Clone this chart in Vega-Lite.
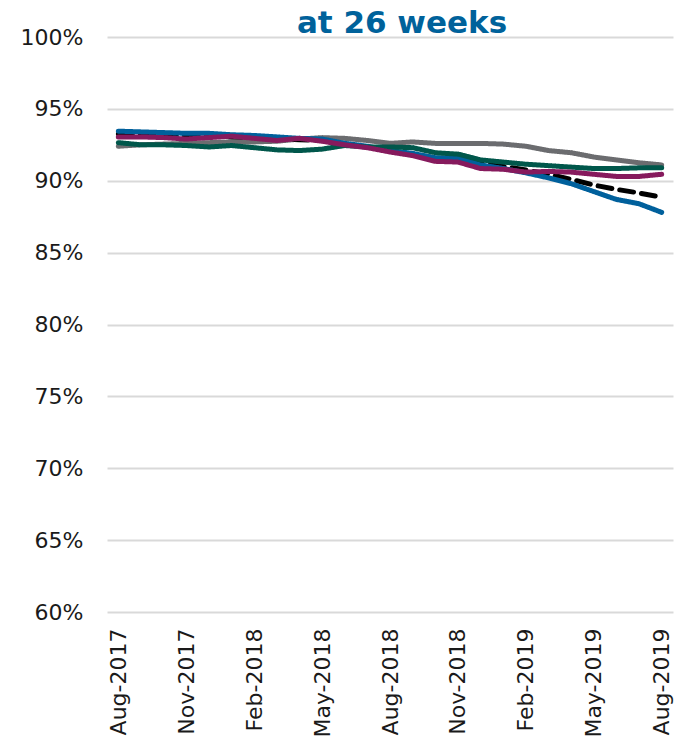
{
  "$schema": "https://vega.github.io/schema/vega-lite/v6.json",
  "width": 566,
  "height": 575,
  "autosize": "none",
  "padding": {"left": 107, "top": 37, "right": 13, "bottom": 135},
  "background": "white",
  "title": {
    "text": "at 26 weeks",
    "color": "#00629B",
    "font": "DejaVu Sans",
    "fontSize": 31,
    "fontWeight": "bold",
    "anchor": "middle",
    "baseline": "alphabetic",
    "offset": -38,
    "dx": 12
  },
  "data": {
    "values": [
      {"month":"Aug-2017","series":"Grey","value":92.4},
      {"month":"Sep-2017","series":"Grey","value":92.5},
      {"month":"Oct-2017","series":"Grey","value":92.55},
      {"month":"Nov-2017","series":"Grey","value":92.6},
      {"month":"Dec-2017","series":"Grey","value":92.65},
      {"month":"Jan-2018","series":"Grey","value":92.7},
      {"month":"Feb-2018","series":"Grey","value":92.7},
      {"month":"Mar-2018","series":"Grey","value":92.75},
      {"month":"Apr-2018","series":"Grey","value":92.9},
      {"month":"May-2018","series":"Grey","value":93.0},
      {"month":"Jun-2018","series":"Grey","value":92.95},
      {"month":"Jul-2018","series":"Grey","value":92.8},
      {"month":"Aug-2018","series":"Grey","value":92.6},
      {"month":"Sep-2018","series":"Grey","value":92.7},
      {"month":"Oct-2018","series":"Grey","value":92.6},
      {"month":"Nov-2018","series":"Grey","value":92.6},
      {"month":"Dec-2018","series":"Grey","value":92.6},
      {"month":"Jan-2019","series":"Grey","value":92.55},
      {"month":"Feb-2019","series":"Grey","value":92.4},
      {"month":"Mar-2019","series":"Grey","value":92.1},
      {"month":"Apr-2019","series":"Grey","value":91.95},
      {"month":"May-2019","series":"Grey","value":91.65},
      {"month":"Jun-2019","series":"Grey","value":91.45},
      {"month":"Jul-2019","series":"Grey","value":91.25},
      {"month":"Aug-2019","series":"Grey","value":91.1},

      {"month":"Aug-2017","series":"All","value":93.25},
      {"month":"Sep-2017","series":"All","value":93.2},
      {"month":"Oct-2017","series":"All","value":93.15},
      {"month":"Nov-2017","series":"All","value":93.1},
      {"month":"Dec-2017","series":"All","value":93.1},
      {"month":"Jan-2018","series":"All","value":93.05},
      {"month":"Feb-2018","series":"All","value":93.0},
      {"month":"Mar-2018","series":"All","value":92.9},
      {"month":"Apr-2018","series":"All","value":92.85},
      {"month":"May-2018","series":"All","value":92.8},
      {"month":"Jun-2018","series":"All","value":92.55},
      {"month":"Jul-2018","series":"All","value":92.35},
      {"month":"Aug-2018","series":"All","value":92.05},
      {"month":"Sep-2018","series":"All","value":91.85},
      {"month":"Oct-2018","series":"All","value":91.55},
      {"month":"Nov-2018","series":"All","value":91.5},
      {"month":"Dec-2018","series":"All","value":91.2},
      {"month":"Jan-2019","series":"All","value":91.0},
      {"month":"Feb-2019","series":"All","value":90.75},
      {"month":"Mar-2019","series":"All","value":90.45},
      {"month":"Apr-2019","series":"All","value":90.1},
      {"month":"May-2019","series":"All","value":89.7},
      {"month":"Jun-2019","series":"All","value":89.4},
      {"month":"Jul-2019","series":"All","value":89.15},
      {"month":"Aug-2019","series":"All","value":88.85},

      {"month":"Aug-2017","series":"Blue","value":93.45},
      {"month":"Sep-2017","series":"Blue","value":93.4},
      {"month":"Oct-2017","series":"Blue","value":93.35},
      {"month":"Nov-2017","series":"Blue","value":93.3},
      {"month":"Dec-2017","series":"Blue","value":93.3},
      {"month":"Jan-2018","series":"Blue","value":93.2},
      {"month":"Feb-2018","series":"Blue","value":93.15},
      {"month":"Mar-2018","series":"Blue","value":93.05},
      {"month":"Apr-2018","series":"Blue","value":92.95},
      {"month":"May-2018","series":"Blue","value":92.9},
      {"month":"Jun-2018","series":"Blue","value":92.6},
      {"month":"Jul-2018","series":"Blue","value":92.4},
      {"month":"Aug-2018","series":"Blue","value":92.1},
      {"month":"Sep-2018","series":"Blue","value":91.9},
      {"month":"Oct-2018","series":"Blue","value":91.6},
      {"month":"Nov-2018","series":"Blue","value":91.6},
      {"month":"Dec-2018","series":"Blue","value":91.1},
      {"month":"Jan-2019","series":"Blue","value":90.85},
      {"month":"Feb-2019","series":"Blue","value":90.55},
      {"month":"Mar-2019","series":"Blue","value":90.2},
      {"month":"Apr-2019","series":"Blue","value":89.8},
      {"month":"May-2019","series":"Blue","value":89.25},
      {"month":"Jun-2019","series":"Blue","value":88.7},
      {"month":"Jul-2019","series":"Blue","value":88.4},
      {"month":"Aug-2019","series":"Blue","value":87.8},

      {"month":"Aug-2017","series":"Green","value":92.65},
      {"month":"Sep-2017","series":"Green","value":92.5},
      {"month":"Oct-2017","series":"Green","value":92.5},
      {"month":"Nov-2017","series":"Green","value":92.45},
      {"month":"Dec-2017","series":"Green","value":92.35},
      {"month":"Jan-2018","series":"Green","value":92.45},
      {"month":"Feb-2018","series":"Green","value":92.3},
      {"month":"Mar-2018","series":"Green","value":92.15},
      {"month":"Apr-2018","series":"Green","value":92.1},
      {"month":"May-2018","series":"Green","value":92.2},
      {"month":"Jun-2018","series":"Green","value":92.45},
      {"month":"Jul-2018","series":"Green","value":92.35},
      {"month":"Aug-2018","series":"Green","value":92.35},
      {"month":"Sep-2018","series":"Green","value":92.3},
      {"month":"Oct-2018","series":"Green","value":91.95},
      {"month":"Nov-2018","series":"Green","value":91.85},
      {"month":"Dec-2018","series":"Green","value":91.45},
      {"month":"Jan-2019","series":"Green","value":91.3},
      {"month":"Feb-2019","series":"Green","value":91.15},
      {"month":"Mar-2019","series":"Green","value":91.05},
      {"month":"Apr-2019","series":"Green","value":90.95},
      {"month":"May-2019","series":"Green","value":90.85},
      {"month":"Jun-2019","series":"Green","value":90.85},
      {"month":"Jul-2019","series":"Green","value":90.9},
      {"month":"Aug-2019","series":"Green","value":90.9},

      {"month":"Aug-2017","series":"Magenta","value":93.05},
      {"month":"Sep-2017","series":"Magenta","value":93.05},
      {"month":"Oct-2017","series":"Magenta","value":93.0},
      {"month":"Nov-2017","series":"Magenta","value":92.9},
      {"month":"Dec-2017","series":"Magenta","value":93.0},
      {"month":"Jan-2018","series":"Magenta","value":93.1},
      {"month":"Feb-2018","series":"Magenta","value":92.95},
      {"month":"Mar-2018","series":"Magenta","value":92.8},
      {"month":"Apr-2018","series":"Magenta","value":92.95},
      {"month":"May-2018","series":"Magenta","value":92.75},
      {"month":"Jun-2018","series":"Magenta","value":92.5},
      {"month":"Jul-2018","series":"Magenta","value":92.3},
      {"month":"Aug-2018","series":"Magenta","value":92.0},
      {"month":"Sep-2018","series":"Magenta","value":91.75},
      {"month":"Oct-2018","series":"Magenta","value":91.35},
      {"month":"Nov-2018","series":"Magenta","value":91.3},
      {"month":"Dec-2018","series":"Magenta","value":90.85},
      {"month":"Jan-2019","series":"Magenta","value":90.8},
      {"month":"Feb-2019","series":"Magenta","value":90.6},
      {"month":"Mar-2019","series":"Magenta","value":90.65},
      {"month":"Apr-2019","series":"Magenta","value":90.6},
      {"month":"May-2019","series":"Magenta","value":90.45},
      {"month":"Jun-2019","series":"Magenta","value":90.3},
      {"month":"Jul-2019","series":"Magenta","value":90.3},
      {"month":"Aug-2019","series":"Magenta","value":90.45}
    ]
  },
  "mark": {"type": "line", "strokeWidth": 5, "strokeCap": "round", "strokeJoin": "round"},
  "encoding": {
    "x": {
      "field": "month",
      "type": "ordinal",
      "sort": null,
      "scale": {"type": "point", "padding": 0.5},
      "axis": {
        "title": null,
        "values": ["Aug-2017","Nov-2017","Feb-2018","May-2018","Aug-2018","Nov-2018","Feb-2019","May-2019","Aug-2019"],
        "labelAngle": -90,
        "labelFont": "DejaVu Sans",
        "labelFontSize": 22,
        "labelColor": "#1a1a1a",
        "labelPadding": 16,
        "ticks": false,
        "domain": false,
        "grid": false
      }
    },
    "y": {
      "field": "value",
      "type": "quantitative",
      "scale": {"domain": [60, 100], "nice": false, "zero": false},
      "axis": {
        "title": null,
        "values": [60, 65, 70, 75, 80, 85, 90, 95, 100],
        "labelExpr": "datum.value + '%'",
        "labelFont": "DejaVu Sans",
        "labelFontSize": 22,
        "labelColor": "#1a1a1a",
        "labelPadding": 24,
        "ticks": false,
        "domain": false,
        "grid": true,
        "gridColor": "#D9D9D9",
        "gridWidth": 2
      }
    },
    "color": {
      "field": "series",
      "type": "nominal",
      "scale": {
        "domain": ["Grey", "All", "Blue", "Green", "Magenta"],
        "range": ["#6B6C6F", "#000000", "#00609C", "#00574B", "#861A5D"]
      },
      "legend": null
    },
    "strokeDash": {
      "field": "series",
      "type": "nominal",
      "scale": {
        "domain": ["Grey", "All", "Blue", "Green", "Magenta"],
        "range": [[1, 0], [14, 8], [1, 0], [1, 0], [1, 0]]
      },
      "legend": null
    }
  },
  "config": {"view": {"stroke": null}}
}
